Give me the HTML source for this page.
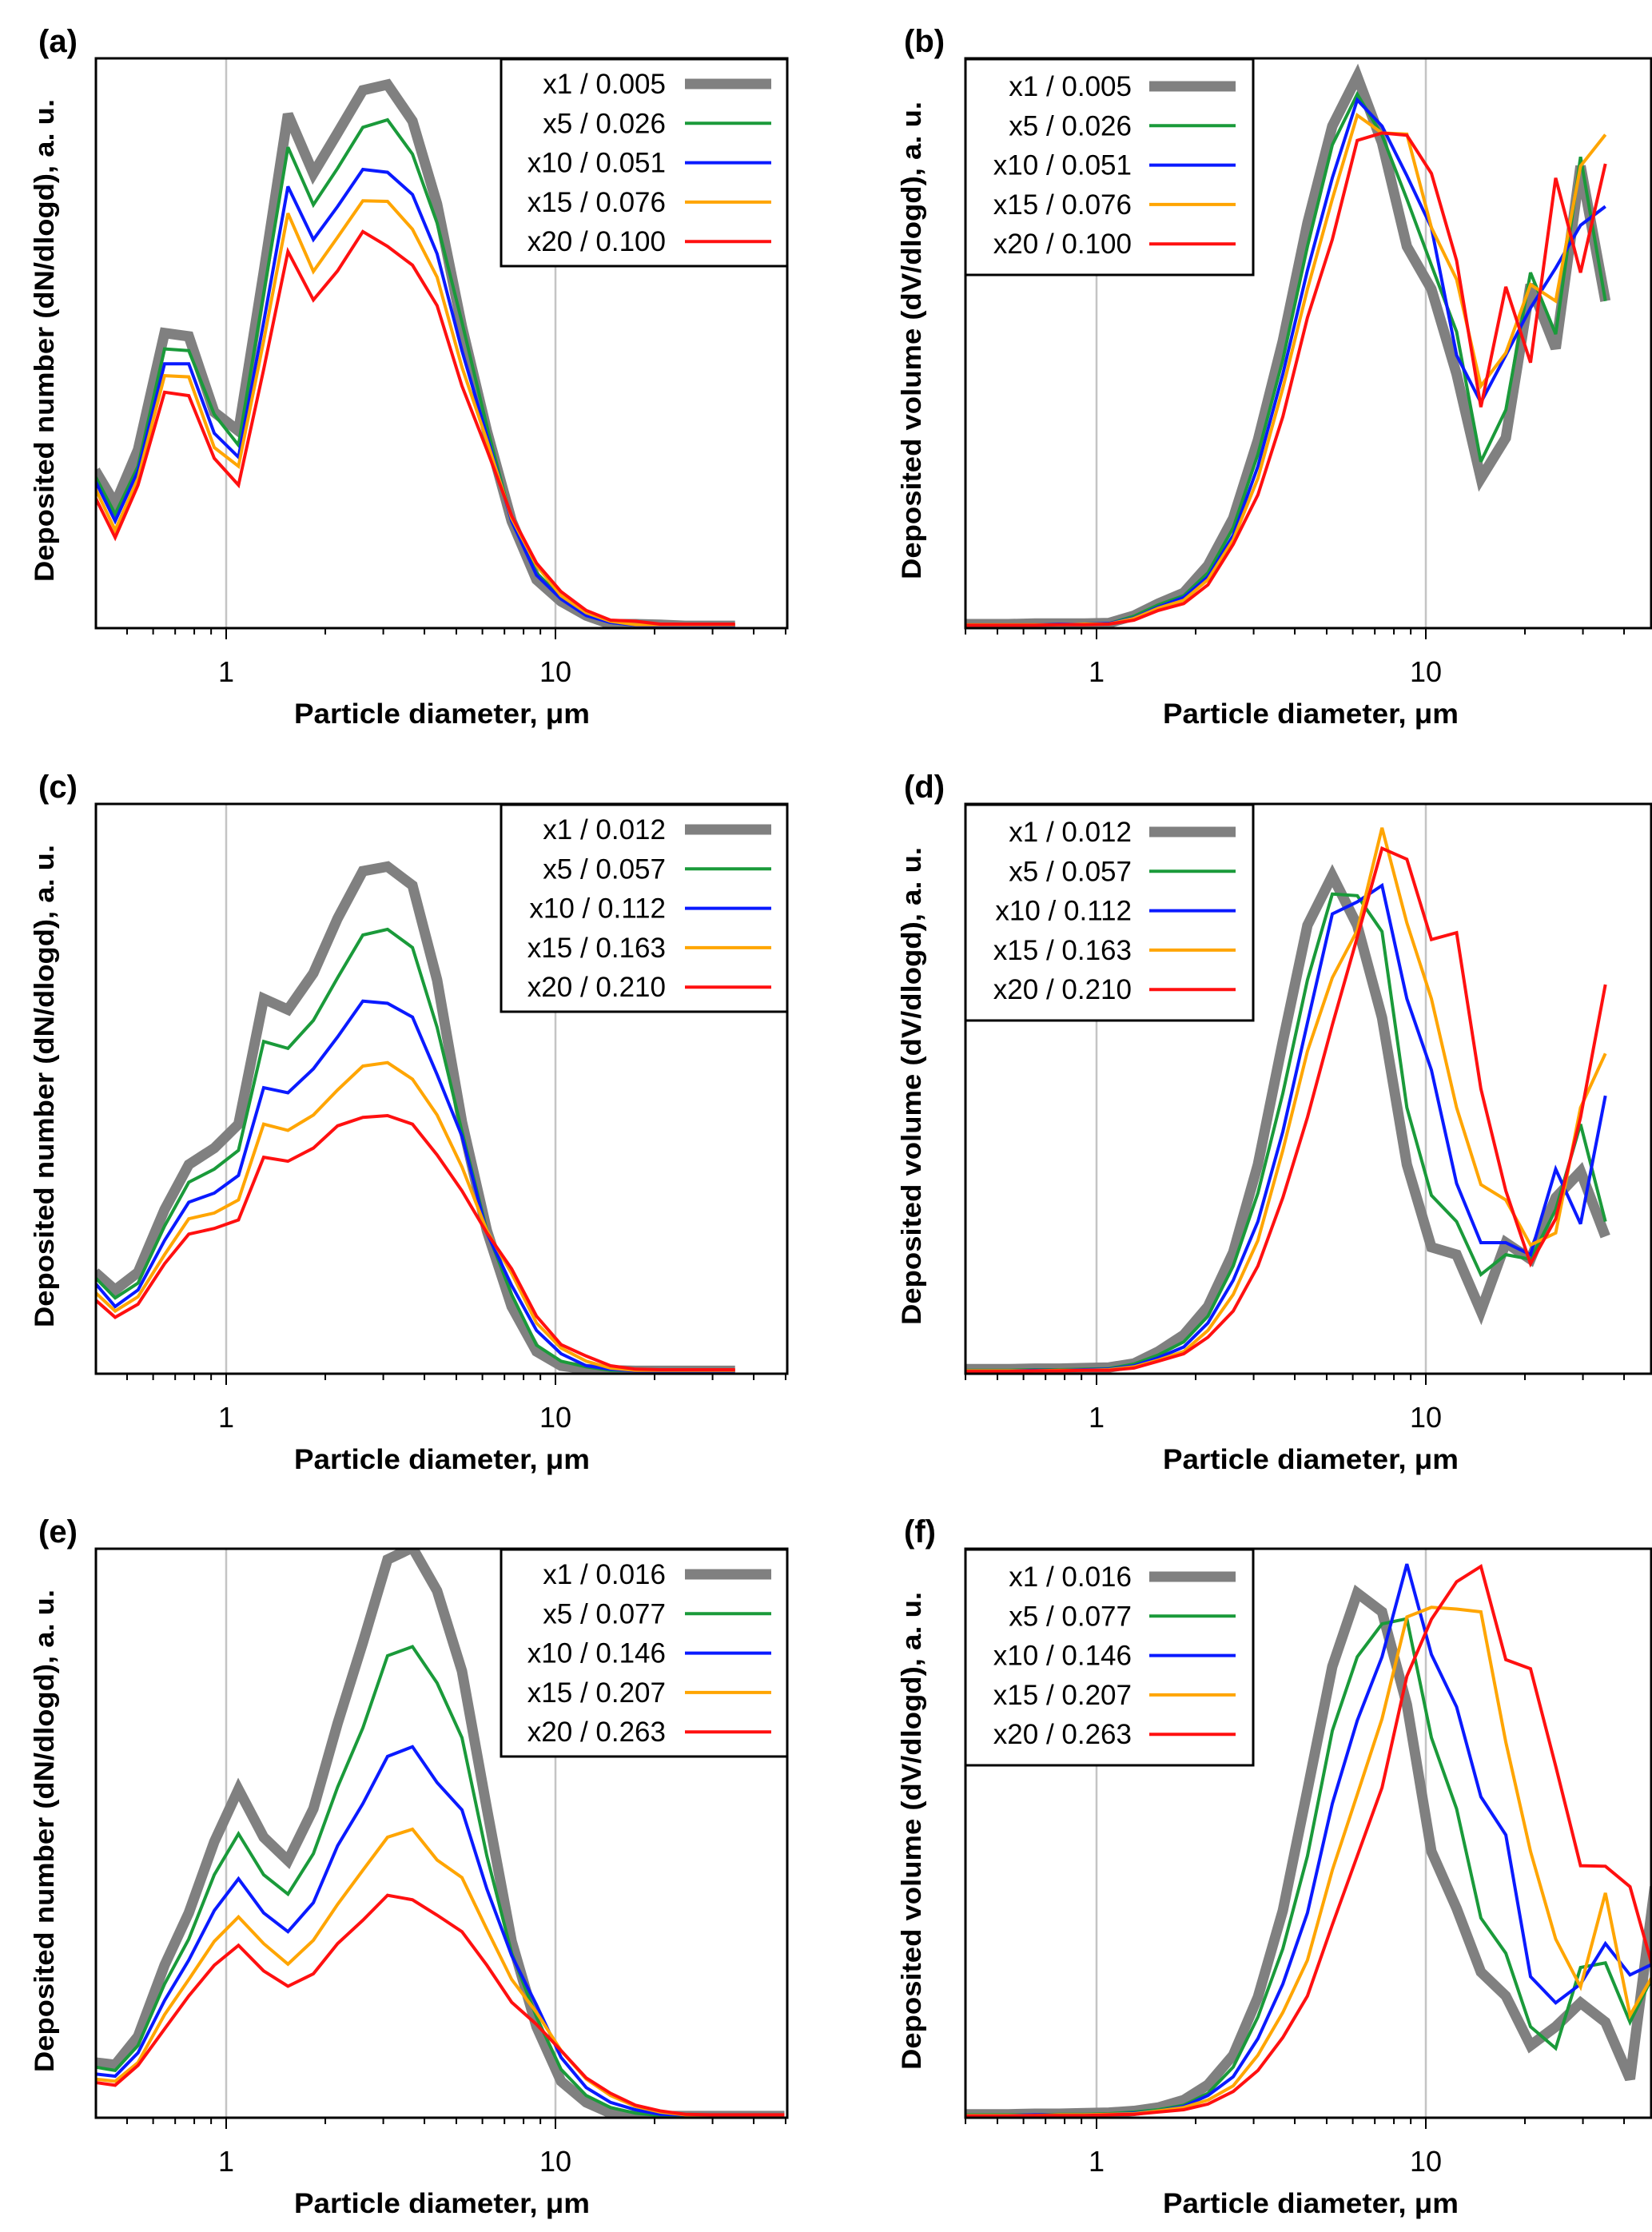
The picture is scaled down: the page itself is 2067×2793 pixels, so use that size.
<!DOCTYPE html>
<html><head><meta charset="utf-8"><style>
html,body{margin:0;padding:0;background:#fff;}
svg{display:block;font-family:"Liberation Sans",Arial,sans-serif;}
</style></head>
<body>
<svg id="fig" width="2067" height="2793" viewBox="0 0 2067 2793" xmlns="http://www.w3.org/2000/svg"></svg>
<script>
// Bin diameters (µm)
const diam = [0.40,0.46,0.54,0.65,0.77,0.92,1.09,1.30,1.54,1.84,2.18,2.60,3.09,3.68,4.37,5.20,6.19,7.36,8.76,10.4,12.4,14.7,17.5,20.8,24.8,29.5,35.1,41.7,49.6];
const seriesLabels = ["x1","x5","x10","x15","x20"];
const legendA = ["x1 / 0.005","x5 / 0.026","x10 / 0.051","x15 / 0.076","x20 / 0.100"];
const legendC = ["x1 / 0.012","x5 / 0.057","x10 / 0.112","x15 / 0.163","x20 / 0.210"];
const legendE = ["x1 / 0.016","x5 / 0.077","x10 / 0.146","x15 / 0.207","x20 / 0.263"];
const xTicks = [1,10];
// (a) deposited number
const aX1 = [27.7,21.8,31.3,51.8,51.2,37.9,34.6,62.4,90.2,79.8,86.9,94.4,95.4,89,74.4,52.9,34.6,18.8,8.5,4.7,2.2,0.7,0.7,0.6,0.4,0.4,0.4];
const aX5 = [26.7,20,28.4,49,48.7,37.5,32.1,58.7,84.4,74.3,80.7,87.9,89.2,83.2,71.1,53.7,35.4,18.8,9.7,5.4,2.4,1,0.5,0.5,0.5,0.5,0.5];
const aX10 = [25.9,18.8,27.6,46.4,46.4,34.2,30,53.7,77.5,68.2,74,80.5,80,76.1,65.7,48.7,33.8,18.8,9.3,5.1,2.2,1,0.5,0.5,0.5,0.5,0.5];
const aX15 = [24.6,17.2,26.3,44.3,44.1,31.7,28.4,50.4,72.8,62.6,68.6,75,74.9,70,61.6,45.8,32.9,19.3,11,5.7,2.7,1.2,0.6,0.6,0.6,0.6,0.6];
const aX20 = [23,15.9,25.1,41.4,40.8,29.8,25.1,45.4,66.1,57.6,62.7,69.6,67,63.7,56.6,42.5,31.3,19.7,11.4,6.4,3.1,1.4,1.2,0.7,0.7,0.7,0.7];
// (b) deposited volume
const bX1 = [0.7,0.7,0.7,0.8,0.8,0.8,0.9,2.2,4.3,6.2,11,19.3,33,50.4,71.1,88.1,96.8,85.2,67,59.5,44.6,26.3,33.4,60.3,49.1,81.1,57.4];
const bX5 = [0.6,0.6,0.6,0.6,0.7,0.7,0.8,2.1,4.1,5.7,9.7,17.6,30.5,47.1,67,84.8,93.7,86.5,75.3,63.7,52,29.2,38.3,62.4,51.6,82.7,57.4];
const bX10 = [0.6,0.6,0.6,0.6,0.7,0.7,0.8,1.8,3.7,5.4,9,16.3,28.4,44.6,62.8,79,92.7,88.1,79.4,70.3,47.9,39.6,47.9,56.2,63.2,70.7,74];
const bX15 = [0.6,0.6,0.6,0.6,0.6,0.7,0.7,1.7,3.5,4.9,8.5,15.5,26.3,42.1,59.5,75.3,90,86.9,86.7,70.3,61.2,42.5,48.3,60.3,57.4,81.1,86.6];
const bX20 = [0.5,0.5,0.5,0.5,0.6,0.6,0.7,1.4,3.1,4.3,7.6,14.7,23.4,37.1,54.5,68.2,85.6,86.9,86.5,79.8,64.5,38.8,59.9,46.6,79,62.4,81.5];
// (c) deposited number
const cX1 = [17.8,14.7,17.8,28.8,36.7,39.6,43.8,65.8,63.9,70.3,79.9,88.2,89,85.7,69.1,44.2,25.1,11.8,3.9,1.4,0.8,0.6,0.5,0.5,0.5,0.5,0.5];
const cX5 = [16.9,13.3,15.9,25.9,33.6,35.9,39.2,58.3,57.1,62,69.5,77,78,74.8,60.8,42.5,25.1,13.9,5,2.2,1.2,0.6,0.6,0.6,0.6,0.6,0.6];
const cX10 = [15.9,11.8,14.7,23.4,30.1,31.7,34.8,50.2,49.3,53.5,59.1,65.4,65,62.6,52.5,41.7,24.7,15.5,7.6,3.5,1.4,0.8,0.5,0.5,0.5,0.5,0.5];
const cX15 = [14.3,11,13.5,20.9,27.2,28.2,30.5,43.8,42.7,45.4,49.8,54,54.6,51.7,45.4,36.3,25.1,17.6,8.9,4.5,2.2,1,0.6,0.6,0.6,0.6,0.6];
const cX20 = [13,9.9,12.2,19.3,24.5,25.5,27,38,37.3,39.6,43.5,45,45.3,43.8,38.4,32.1,24.7,18.4,10.1,5.1,3.1,1.4,0.8,0.7,0.7,0.7,0.7];
// (d) deposited volume
const dX1 = [0.8,0.8,0.8,0.9,0.9,1,1.1,1.8,3.9,6.8,11.8,21.3,36.7,58.3,78.7,87.4,78.7,62.5,36.7,22.2,20.9,11,23,20.1,30.9,35.5,24.1];
const dX5 = [0.6,0.6,0.6,0.7,0.7,0.8,0.9,1.7,3.3,5.6,10.1,18.9,31.7,49.2,69.1,84.2,83.9,77.6,46.7,31.3,26.7,17.4,20.9,20.1,28.8,43.8,26.7];
const dX10 = [0.5,0.5,0.5,0.6,0.6,0.7,0.8,1.4,2.8,4.7,8.9,16.4,26.7,42.5,61.6,80.7,82.8,85.7,65.8,53.3,33.4,23,23,20.9,35.9,26.3,48.8];
const dX15 = [0.5,0.5,0.5,0.5,0.6,0.6,0.7,1.2,2.4,3.9,7.6,13.9,23.4,39.2,56.6,69.5,77.8,95.8,79.1,65.8,46.7,33.2,30.5,22.6,24.7,46.7,56.2];
const dX20 = [0.4,0.4,0.4,0.5,0.5,0.6,0.6,1,2.2,3.5,6.4,11,18.9,30.9,45,61.2,76.6,92.2,90.3,76.2,77.4,50,32.1,19.3,27.2,45,68.3];
// (e) deposited number
const eX1 = [9.7,9.3,14.3,26.8,36,48.5,57.7,49.3,45.2,54.3,69.3,83.5,98.1,100.2,92.6,78.5,54.3,31,16,6.4,2.7,0.8,0.3,0.3,0.3,0.3,0.3,0.3,0.3];
const eX5 = [8.9,8.3,12.7,23.5,31.4,42.7,49.9,42.7,39.3,46.4,58.1,68.5,81.2,82.8,76.4,66.8,46,28.9,17.7,8.5,3.9,1.8,0.8,0.4,0.4,0.4,0.4,0.4,0.4];
const eX10 = [7.7,7.3,11.4,20.6,27.7,36.4,42,36,32.7,37.8,47.8,55.2,63.5,65.2,58.9,54.1,40.2,28.5,19.8,10.6,5.3,2.7,1.4,0.6,0.5,0.5,0.5,0.5,0.5];
const eX15 = [6.8,6.4,9.7,18.1,24.3,31,35.3,30.6,27,31.2,37.5,43.5,49.3,50.7,45.3,42.2,33.1,24.3,18.5,11.8,6.8,3.9,2,1,0.5,0.5,0.5,0.5,0.5];
const eX20 = [6.2,5.7,9.2,15.6,21.4,26.8,30.3,25.8,23.1,25.3,30.6,34.7,39.1,38.3,35.6,32.7,26.8,20.3,16.4,11.8,7,4.3,2.2,1.2,0.6,0.5,0.5,0.5,0.5];
// (f) deposited volume
const fX1 = [0.6,0.6,0.6,0.7,0.7,0.8,0.9,1.2,1.8,3.1,5.8,11,21.2,36.4,57.6,79.3,92.2,88.9,72.6,46.8,36.8,25.6,21.4,12.7,16,20.2,16.8,6.8,40.6];
const fX5 = [0.5,0.5,0.5,0.5,0.6,0.6,0.7,1,1.4,2.2,4.3,8.9,17.7,29.7,46,68,81,86.8,87.7,66.8,54.3,35.1,28.9,16,12.2,26.4,27.2,16.8,25.6];
const fX10 = [0.4,0.4,0.4,0.5,0.5,0.5,0.6,0.8,1.2,2,3.9,7.2,13.9,23.5,36,55.2,69.8,81,97.3,81.4,72.2,56.4,49.7,24.8,20.2,23.5,30.6,25.1,27.2];
const fX15 = [0.4,0.4,0.4,0.4,0.5,0.5,0.6,0.7,1.2,1.8,3.1,5.6,11,18.5,27.7,43.5,56.8,70.1,88,89.7,89.4,88.9,66,46.8,31.4,23,39.5,18,25.6];
const fX20 = [0.3,0.3,0.3,0.4,0.4,0.4,0.5,0.6,1,1.4,2.4,4.6,8.3,14.1,21.4,33.9,46,58,77.6,87.6,94.2,96.9,80.5,78.9,61.8,44.3,44.2,40.6,25.1];

const colors = ["#808080","#1a9a3a","#0a1aff","#ffa500","#ff1010"];
const widths = [13,4,4,4,4];
const svg = document.getElementById('fig');
const NS = 'http://www.w3.org/2000/svg';
function mk(tag, attrs, parent){
  const e = document.createElementNS(NS, tag);
  for (const k in attrs) e.setAttribute(k, attrs[k]);
  (parent||svg).appendChild(e);
  return e;
}
const defs = mk('defs',{});

function panel(cfg){
  const g = mk('g',{});
  
  
  const L = cfg.left, R = cfg.right, T = cfg.top, B = cfg.bottom, x1 = cfg.x1;
  const dec = 412;
  const xs = d => x1 + Math.log10(d) * dec;
  const ys = v => B - v * (B - T) / 100;
  const clip = mk('clipPath',{id:'clip-'+cfg.id}, defs);
  mk('rect',{x:L,y:T,width:R-L,height:B-T}, clip);
  xTicks.forEach(t => {
    const gl = mk('line',{x1:xs(t),x2:xs(t),y1:T,y2:B,stroke:'#c4c4c4','stroke-width':2.5}, g);
    
    
  });
  for (let p = -1; p <= 1; p++) {
    for (let m = 1; m <= 9; m++) {
      const v = m * Math.pow(10, p);
      const x = xs(v);
      if (x < L - 0.5 || x > R + 0.5) continue;
      const tk = mk('line',{x1:x,x2:x,y1:B,y2:B + (m===1?14:8),stroke:'#000','stroke-width':2}, g);
      
      
    }
  }
  xTicks.forEach(t => {
    const tl = mk('text',{x:xs(t),y:B+67,'font-size':36,'text-anchor':'middle',fill:'#000'}, g);
    tl.textContent = String(t);
    
    
  });
  const sg = mk('g',{'clip-path':'url(#clip-'+cfg.id+')'}, g);
  cfg.series.forEach((arr, si) => {
    const pts = arr.map((v,i) => xs(diam[i]).toFixed(1)+','+ys(v).toFixed(1)).join(' ');
    const pl = mk('polyline',{points:pts,fill:'none',stroke:colors[si],'stroke-width':widths[si],'stroke-linejoin':'miter','stroke-miterlimit':3}, sg);
    
    
  });
  const fr = mk('rect',{x:L,y:T,width:R-L,height:B-T,fill:'none',stroke:'#000','stroke-width':3}, g);
  
  
  const lg = mk('g',{}, g);
  
  
  const lb = cfg.legend;
  mk('rect',{x:lb.x,y:T+1,width:lb.w,height:lb.h,fill:'#fff',stroke:'#000','stroke-width':3}, lg);
  cfg.labels.forEach((txt, i) => {
    const y = T + lb.first + i * 49.3;
    const t = mk('text',{x:lb.textX,y:y+12,'font-size':35,'text-anchor':'end',fill:'#000'}, lg);
    t.textContent = txt;
    
    
    const s = mk('line',{x1:lb.sx1,x2:lb.sx2,y1:y,y2:y,stroke:colors[i],'stroke-width':i===0?13:4}, lg);
    
    
  });
  const pl = mk('text',{x:cfg.labelX,y:T-8,'font-size':40,'font-weight':'bold',fill:'#000'}, g);
  pl.textContent = '(' + cfg.id + ')';
  
  
  const xt = mk('text',{x:cfg.xTitleX,y:B+119,'font-size':35,'font-weight':'bold','text-anchor':'middle',textLength:370,lengthAdjust:'spacingAndGlyphs',fill:'#000'}, g);
  xt.textContent = 'Particle diameter, μm';
  
  
  const cy = T + 353;
  const yt = mk('text',{x:cfg.yTitleX,y:cy,'font-size':34,'font-weight':'bold','text-anchor':'middle',textLength:cfg.yLen,lengthAdjust:'spacingAndGlyphs',transform:'rotate(-90 '+cfg.yTitleX+' '+cy+')',fill:'#000'}, g);
  yt.textContent = cfg.yTitle;
  
  
}

const rows = [{T:73,B:786},{T:1006,B:1719},{T:1938,B:2650}];
const leftLeg = {x:627,w:358,h:259,first:32,textX:833,sx1:857,sx2:965};
const rightLeg = {x:1208,w:360,h:270,first:35,textX:1416,sx1:1438,sx2:1546};
const numTitle = 'Deposited number (dN/dlogd), a. u.';
const volTitle = 'Deposited volume (dV/dlogd), a. u.';
panel({id:'a',left:120,right:985,top:rows[0].T,bottom:rows[0].B,x1:283,series:[aX1,aX5,aX10,aX15,aX20],labels:legendA,legend:leftLeg,labelX:48,xTitleX:553,yTitleX:67,yTitle:numTitle,yLen:604});
panel({id:'b',left:1208,right:2066,top:rows[0].T,bottom:rows[0].B,x1:1372,series:[bX1,bX5,bX10,bX15,bX20],labels:legendA,legend:rightLeg,labelX:1131,xTitleX:1640,yTitleX:1152,yTitle:volTitle,yLen:598});
panel({id:'c',left:120,right:985,top:rows[1].T,bottom:rows[1].B,x1:283,series:[cX1,cX5,cX10,cX15,cX20],labels:legendC,legend:leftLeg,labelX:48,xTitleX:553,yTitleX:67,yTitle:numTitle,yLen:604});
panel({id:'d',left:1208,right:2066,top:rows[1].T,bottom:rows[1].B,x1:1372,series:[dX1,dX5,dX10,dX15,dX20],labels:legendC,legend:rightLeg,labelX:1131,xTitleX:1640,yTitleX:1152,yTitle:volTitle,yLen:598});
panel({id:'e',left:120,right:985,top:rows[2].T,bottom:rows[2].B,x1:283,series:[eX1,eX5,eX10,eX15,eX20],labels:legendE,legend:leftLeg,labelX:48,xTitleX:553,yTitleX:67,yTitle:numTitle,yLen:604});
panel({id:'f',left:1208,right:2066,top:rows[2].T,bottom:rows[2].B,x1:1372,series:[fX1,fX5,fX10,fX15,fX20],labels:legendE,legend:rightLeg,labelX:1131,xTitleX:1640,yTitleX:1152,yTitle:volTitle,yLen:598});
</script>
</body></html>
